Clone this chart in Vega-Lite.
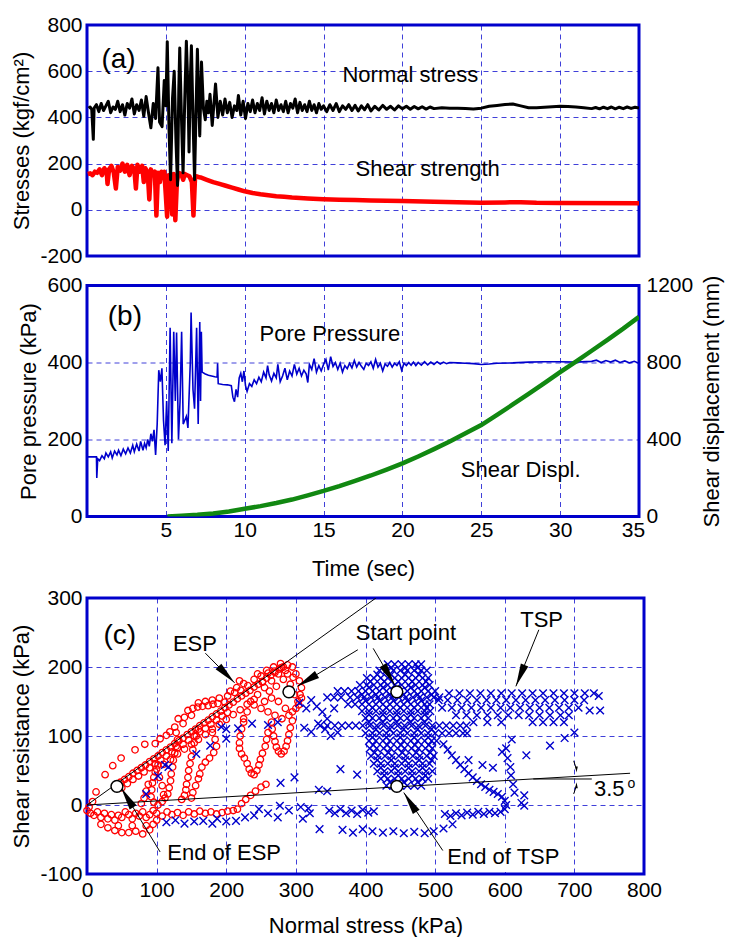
{
"$schema": "https://vega.github.io/schema/vega-lite/v6.json",
"padding": {"left": 9, "top": 12, "right": 2, "bottom": 0},
"spacing": 4.5,
"config": {
  "font": "Liberation Sans",
  "view": {"stroke": "#0000cc", "strokeWidth": 3},
  "axis": {"grid": true, "gridColor": "#0000cc", "gridDash": [5, 4], "gridWidth": 1, "gridOpacity": 0.75, "domain": false, "ticks": false, "labelFontSize": 21, "titleFontSize": 22, "labelColor": "#000000", "titleColor": "#000000", "titleFontWeight": "normal", "labelPadding": 5, "labelFlush": false, "labelOverlap": false, "labelExpr": "datum.value"},
  "text": {"font": "Liberation Sans", "color": "#000000"}
},
"datasets": {
  "ns": [{"t":0.1,"v":440},{"t":0.2,"v":445},{"t":0.3,"v":435},{"t":0.4,"v":305},{"t":0.45,"v":440},{"t":0.6,"v":455},{"t":0.75,"v":425},{"t":0.9,"v":460},{"t":1.05,"v":430},{"t":1.2,"v":450},{"t":1.35,"v":470},{"t":1.5,"v":420},{"t":1.65,"v":445},{"t":1.8,"v":435},{"t":1.95,"v":470},{"t":2.1,"v":425},{"t":2.25,"v":455},{"t":2.4,"v":410},{"t":2.55,"v":460},{"t":2.7,"v":440},{"t":2.85,"v":480},{"t":3.0,"v":415},{"t":3.15,"v":455},{"t":3.3,"v":430},{"t":3.45,"v":475},{"t":3.6,"v":405},{"t":3.75,"v":490},{"t":3.9,"v":420},{"t":4.05,"v":355},{"t":4.2,"v":460},{"t":4.35,"v":395},{"t":4.5,"v":615},{"t":4.6,"v":380},{"t":4.76,"v":360},{"t":4.9,"v":560},{"t":5.0,"v":450},{"t":5.09,"v":728},{"t":5.2,"v":350},{"t":5.3,"v":130},{"t":5.42,"v":480},{"t":5.53,"v":600},{"t":5.64,"v":300},{"t":5.74,"v":105},{"t":5.82,"v":520},{"t":5.88,"v":700},{"t":5.98,"v":420},{"t":6.09,"v":160},{"t":6.2,"v":480},{"t":6.3,"v":730},{"t":6.4,"v":520},{"t":6.47,"v":250},{"t":6.55,"v":560},{"t":6.62,"v":710},{"t":6.72,"v":400},{"t":6.82,"v":130},{"t":6.92,"v":450},{"t":7.0,"v":695},{"t":7.08,"v":480},{"t":7.15,"v":320},{"t":7.26,"v":640},{"t":7.38,"v":440},{"t":7.5,"v":390},{"t":7.6,"v":470},{"t":7.7,"v":420},{"t":7.8,"v":500},{"t":7.94,"v":365},{"t":8.05,"v":460},{"t":8.15,"v":545},{"t":8.3,"v":400},{"t":8.45,"v":470},{"t":8.6,"v":410},{"t":8.75,"v":480},{"t":8.9,"v":420},{"t":9.05,"v":465},{"t":9.2,"v":400},{"t":9.35,"v":450},{"t":9.5,"v":430},{"t":9.6,"v":495},{"t":9.75,"v":410},{"t":9.9,"v":470},{"t":10.05,"v":395},{"t":10.2,"v":460},{"t":10.35,"v":425},{"t":10.5,"v":475},{"t":10.65,"v":420},{"t":10.8,"v":460},{"t":10.95,"v":430},{"t":11.1,"v":485},{"t":11.25,"v":415},{"t":11.4,"v":470},{"t":11.55,"v":430},{"t":11.7,"v":460},{"t":11.85,"v":420},{"t":12.0,"v":475},{"t":12.15,"v":430},{"t":12.3,"v":455},{"t":12.45,"v":425},{"t":12.6,"v":470},{"t":12.75,"v":420},{"t":12.9,"v":460},{"t":13.05,"v":440},{"t":13.2,"v":480},{"t":13.35,"v":420},{"t":13.5,"v":465},{"t":13.65,"v":430},{"t":13.8,"v":455},{"t":13.95,"v":425},{"t":14.1,"v":470},{"t":14.25,"v":430},{"t":14.4,"v":455},{"t":14.55,"v":420},{"t":14.7,"v":460},{"t":14.85,"v":435},{"t":15.0,"v":450},{"t":15.2,"v":425},{"t":15.4,"v":455},{"t":15.6,"v":430},{"t":15.8,"v":460},{"t":16.0,"v":425},{"t":16.2,"v":450},{"t":16.4,"v":435},{"t":16.6,"v":455},{"t":16.8,"v":430},{"t":17.0,"v":452},{"t":17.2,"v":428},{"t":17.4,"v":450},{"t":17.6,"v":433},{"t":17.8,"v":455},{"t":18.0,"v":428},{"t":18.25,"v":448},{"t":18.5,"v":432},{"t":18.75,"v":452},{"t":19.0,"v":435},{"t":19.25,"v":448},{"t":19.5,"v":432},{"t":19.75,"v":450},{"t":20.0,"v":437},{"t":20.25,"v":448},{"t":20.5,"v":435},{"t":20.75,"v":447},{"t":21.0,"v":437},{"t":21.25,"v":446},{"t":21.5,"v":436},{"t":21.75,"v":445},{"t":22.0,"v":438},{"t":22.5,"v":442},{"t":23.0,"v":440},{"t":23.5,"v":440},{"t":24.0,"v":438},{"t":24.5,"v":436},{"t":25.0,"v":440},{"t":25.5,"v":448},{"t":26.0,"v":452},{"t":26.5,"v":456},{"t":27.0,"v":458},{"t":27.5,"v":450},{"t":28.0,"v":442},{"t":28.5,"v":442},{"t":29.0,"v":444},{"t":29.5,"v":446},{"t":30.0,"v":448},{"t":30.5,"v":447},{"t":31.0,"v":445},{"t":31.5,"v":442},{"t":32.0,"v":438},{"t":32.25,"v":443},{"t":32.5,"v":437},{"t":32.75,"v":444},{"t":33.0,"v":438},{"t":33.25,"v":445},{"t":33.5,"v":437},{"t":33.75,"v":444},{"t":34.0,"v":438},{"t":34.25,"v":445},{"t":34.5,"v":439},{"t":34.75,"v":444},{"t":35.0,"v":440}],
  "ss": [{"t":0.05,"v":155},{"t":0.2,"v":158},{"t":0.35,"v":150},{"t":0.5,"v":165},{"t":0.65,"v":160},{"t":0.8,"v":175},{"t":0.95,"v":150},{"t":1.1,"v":180},{"t":1.25,"v":165},{"t":1.3,"v":112},{"t":1.4,"v":175},{"t":1.55,"v":190},{"t":1.7,"v":160},{"t":1.83,"v":92},{"t":1.95,"v":185},{"t":2.1,"v":170},{"t":2.25,"v":200},{"t":2.4,"v":165},{"t":2.55,"v":195},{"t":2.7,"v":150},{"t":2.85,"v":190},{"t":3.0,"v":175},{"t":3.1,"v":92},{"t":3.2,"v":195},{"t":3.35,"v":165},{"t":3.5,"v":190},{"t":3.6,"v":120},{"t":3.7,"v":180},{"t":3.85,"v":160},{"t":3.95,"v":45},{"t":4.05,"v":175},{"t":4.15,"v":150},{"t":4.3,"v":165},{"t":4.4,"v":-25},{"t":4.5,"v":160},{"t":4.62,"v":120},{"t":4.72,"v":165},{"t":4.8,"v":140},{"t":4.9,"v":165},{"t":5.0,"v":60},{"t":5.08,"v":-30},{"t":5.18,"v":150},{"t":5.3,"v":140},{"t":5.4,"v":-20},{"t":5.5,"v":155},{"t":5.6,"v":-45},{"t":5.7,"v":120},{"t":5.8,"v":160},{"t":5.9,"v":158},{"t":6.0,"v":150},{"t":6.1,"v":130},{"t":6.2,"v":155},{"t":6.35,"v":150},{"t":6.5,"v":145},{"t":6.65,"v":120},{"t":6.75,"v":-25},{"t":6.85,"v":140},{"t":6.95,"v":145},{"t":7.05,"v":142},{"t":7.2,"v":140},{"t":7.6,"v":130},{"t":8.0,"v":120},{"t":8.4,"v":112},{"t":8.8,"v":104},{"t":9.2,"v":96},{"t":9.6,"v":88},{"t":10.0,"v":80},{"t":10.5,"v":73},{"t":11.0,"v":67},{"t":11.5,"v":63},{"t":12.0,"v":59},{"t":12.5,"v":56},{"t":13.0,"v":53},{"t":14.0,"v":49},{"t":15.0,"v":46},{"t":16.0,"v":44},{"t":17.0,"v":42},{"t":18.0,"v":40},{"t":20.0,"v":38},{"t":22.0,"v":35},{"t":25.0,"v":31},{"t":26.5,"v":32},{"t":27.5,"v":33},{"t":28.5,"v":30},{"t":30.0,"v":29},{"t":35.0,"v":28}],
  "pp": [{"t":0.05,"v":155},{"t":0.6,"v":155},{"t":0.62,"v":100},{"t":0.68,"v":150},{"t":0.8,"v":145},{"t":0.95,"v":158},{"t":1.1,"v":150},{"t":1.2,"v":165},{"t":1.35,"v":155},{"t":1.5,"v":168},{"t":1.6,"v":152},{"t":1.75,"v":170},{"t":1.9,"v":160},{"t":2.0,"v":172},{"t":2.15,"v":158},{"t":2.3,"v":175},{"t":2.45,"v":163},{"t":2.6,"v":178},{"t":2.75,"v":165},{"t":2.9,"v":185},{"t":3.0,"v":168},{"t":3.15,"v":188},{"t":3.3,"v":170},{"t":3.4,"v":195},{"t":3.55,"v":172},{"t":3.65,"v":190},{"t":3.75,"v":178},{"t":3.85,"v":200},{"t":3.95,"v":182},{"t":4.05,"v":215},{"t":4.15,"v":195},{"t":4.25,"v":225},{"t":4.35,"v":160},{"t":4.45,"v":240},{"t":4.55,"v":380},{"t":4.65,"v":350},{"t":4.75,"v":385},{"t":4.85,"v":250},{"t":4.95,"v":185},{"t":5.05,"v":300},{"t":5.15,"v":170},{"t":5.27,"v":490},{"t":5.38,"v":190},{"t":5.5,"v":480},{"t":5.6,"v":300},{"t":5.68,"v":478},{"t":5.8,"v":200},{"t":5.9,"v":300},{"t":6.0,"v":480},{"t":6.1,"v":240},{"t":6.2,"v":250},{"t":6.3,"v":260},{"t":6.4,"v":230},{"t":6.55,"v":400},{"t":6.6,"v":530},{"t":6.72,"v":330},{"t":6.82,"v":280},{"t":6.95,"v":490},{"t":7.05,"v":240},{"t":7.15,"v":505},{"t":7.2,"v":300},{"t":7.25,"v":480},{"t":7.3,"v":375},{"t":7.5,"v":370},{"t":7.7,"v":367},{"t":7.9,"v":365},{"t":8.1,"v":363},{"t":8.25,"v":362},{"t":8.28,"v":398},{"t":8.32,"v":345},{"t":8.6,"v":343},{"t":8.9,"v":342},{"t":9.15,"v":340},{"t":9.25,"v":310},{"t":9.35,"v":298},{"t":9.45,"v":330},{"t":9.55,"v":310},{"t":9.65,"v":360},{"t":9.75,"v":372},{"t":9.85,"v":350},{"t":9.95,"v":378},{"t":10.05,"v":340},{"t":10.15,"v":325},{"t":10.3,"v":345},{"t":10.45,"v":338},{"t":10.6,"v":355},{"t":10.75,"v":345},{"t":10.9,"v":362},{"t":11.05,"v":350},{"t":11.2,"v":375},{"t":11.35,"v":360},{"t":11.45,"v":392},{"t":11.55,"v":368},{"t":11.7,"v":352},{"t":11.85,"v":372},{"t":12.0,"v":360},{"t":12.1,"v":395},{"t":12.25,"v":350},{"t":12.4,"v":365},{"t":12.55,"v":385},{"t":12.7,"v":355},{"t":12.85,"v":378},{"t":13.0,"v":365},{"t":13.15,"v":395},{"t":13.3,"v":370},{"t":13.45,"v":385},{"t":13.6,"v":365},{"t":13.75,"v":380},{"t":13.9,"v":370},{"t":14.0,"v":348},{"t":14.1,"v":395},{"t":14.25,"v":382},{"t":14.4,"v":410},{"t":14.55,"v":375},{"t":14.7,"v":392},{"t":14.85,"v":378},{"t":15.0,"v":395},{"t":15.15,"v":408},{"t":15.3,"v":380},{"t":15.45,"v":415},{"t":15.6,"v":390},{"t":15.75,"v":400},{"t":15.9,"v":382},{"t":16.05,"v":398},{"t":16.2,"v":375},{"t":16.35,"v":392},{"t":16.5,"v":384},{"t":16.65,"v":398},{"t":16.8,"v":386},{"t":16.95,"v":405},{"t":17.1,"v":388},{"t":17.25,"v":400},{"t":17.4,"v":390},{"t":17.55,"v":382},{"t":17.7,"v":398},{"t":17.85,"v":392},{"t":18.0,"v":402},{"t":18.15,"v":385},{"t":18.3,"v":408},{"t":18.45,"v":388},{"t":18.6,"v":398},{"t":18.75,"v":378},{"t":18.9,"v":396},{"t":19.05,"v":390},{"t":19.2,"v":400},{"t":19.35,"v":388},{"t":19.5,"v":398},{"t":19.65,"v":392},{"t":19.8,"v":402},{"t":19.95,"v":380},{"t":20.1,"v":398},{"t":20.25,"v":392},{"t":20.4,"v":400},{"t":20.55,"v":393},{"t":20.7,"v":401},{"t":20.85,"v":392},{"t":21.0,"v":400},{"t":21.2,"v":393},{"t":21.4,"v":402},{"t":21.6,"v":394},{"t":21.8,"v":401},{"t":22.0,"v":395},{"t":22.2,"v":402},{"t":22.4,"v":396},{"t":22.6,"v":401},{"t":22.8,"v":397},{"t":23.0,"v":400},{"t":23.5,"v":399},{"t":24.0,"v":398},{"t":24.5,"v":397},{"t":25.0,"v":395},{"t":25.5,"v":396},{"t":26.0,"v":398},{"t":27.0,"v":399},{"t":28.0,"v":401},{"t":29.0,"v":402},{"t":30.0,"v":402},{"t":31.0,"v":401},{"t":32.0,"v":403},{"t":32.3,"v":406},{"t":32.6,"v":400},{"t":32.9,"v":405},{"t":33.2,"v":401},{"t":33.5,"v":406},{"t":33.8,"v":400},{"t":34.1,"v":404},{"t":34.4,"v":399},{"t":34.7,"v":403},{"t":35.0,"v":398}],
  "sd": [{"t":5.1,"d":0},{"t":6,"d":4},{"t":7,"d":9},{"t":8,"d":16},{"t":9,"d":26},{"t":10,"d":40},{"t":11,"d":54},{"t":12,"d":70},{"t":13,"d":88},{"t":14,"d":110},{"t":15,"d":133},{"t":16,"d":158},{"t":17,"d":185},{"t":18,"d":213},{"t":19,"d":244},{"t":20,"d":276},{"t":21,"d":312},{"t":22,"d":350},{"t":23,"d":390},{"t":24,"d":432},{"t":25,"d":475},{"t":26,"d":528},{"t":27,"d":582},{"t":28,"d":637},{"t":29,"d":693},{"t":30,"d":750},{"t":31,"d":805},{"t":32,"d":861},{"t":33,"d":918},{"t":34,"d":976},{"t":35,"d":1037}],
  "esp": [{"x":42,"y":28},{"x":48,"y":33},{"x":54,"y":37},{"x":60,"y":41},{"x":66,"y":46},{"x":72,"y":50},{"x":78,"y":54},{"x":84,"y":58},{"x":90,"y":63},{"x":96,"y":67},{"x":102,"y":71},{"x":108,"y":76},{"x":114,"y":80},{"x":120,"y":84},{"x":126,"y":89},{"x":132,"y":93},{"x":138,"y":97},{"x":144,"y":102},{"x":150,"y":106},{"x":156,"y":110},{"x":162,"y":115},{"x":168,"y":119},{"x":174,"y":123},{"x":180,"y":128},{"x":186,"y":132},{"x":192,"y":136},{"x":198,"y":141},{"x":204,"y":145},{"x":210,"y":149},{"x":216,"y":154},{"x":222,"y":158},{"x":228,"y":162},{"x":234,"y":166},{"x":240,"y":171},{"x":246,"y":175},{"x":252,"y":179},{"x":258,"y":184},{"x":264,"y":188},{"x":270,"y":192},{"x":276,"y":197},{"x":282,"y":200},{"x":288,"y":203},
    {"x":50,"y":25},{"x":58,"y":31},{"x":66,"y":37},{"x":74,"y":42},{"x":82,"y":48},{"x":90,"y":54},{"x":98,"y":60},{"x":106,"y":65},{"x":114,"y":71},{"x":122,"y":77},{"x":130,"y":83},{"x":138,"y":88},{"x":146,"y":94},{"x":154,"y":100},{"x":162,"y":106},{"x":170,"y":111},{"x":178,"y":117},{"x":186,"y":123},{"x":194,"y":129},{"x":202,"y":134},
    {"x":100,"y":52},{"x":110,"y":59},{"x":120,"y":66},{"x":130,"y":74},{"x":140,"y":81},{"x":150,"y":88},{"x":160,"y":95},{"x":170,"y":102},{"x":180,"y":110},{"x":190,"y":117},{"x":200,"y":124},{"x":210,"y":131},{"x":220,"y":138},{"x":230,"y":146},{"x":240,"y":153},
    {"x":98,"y":89},{"x":105,"y":96},{"x":114,"y":101},{"x":119,"y":106},{"x":126,"y":113},{"x":131,"y":125},{"x":140,"y":127},{"x":145,"y":137},{"x":152,"y":140},{"x":159,"y":142},{"x":166,"y":143},{"x":174,"y":144},{"x":181,"y":146},{"x":188,"y":147},{"x":198,"y":149},{"x":202,"y":158},{"x":212,"y":163},{"x":221,"y":166},{"x":231,"y":173},{"x":240,"y":182},{"x":250,"y":187},{"x":260,"y":191},{"x":269,"y":194},{"x":279,"y":199},{"x":219,"y":180},{"x":225,"y":176},{"x":215,"y":170},{"x":206,"y":165},{"x":190,"y":155},{"x":180,"y":152},{"x":170,"y":150},{"x":160,"y":148},{"x":150,"y":130},{"x":138,"y":118},{"x":128,"y":105},
    {"x":245,"y":160},{"x":255,"y":170},{"x":265,"y":180},{"x":275,"y":190},{"x":285,"y":195},{"x":295,"y":200},{"x":300,"y":190},{"x":305,"y":180},{"x":308,"y":170},{"x":306,"y":160},{"x":303,"y":150},{"x":300,"y":140},{"x":295,"y":135},{"x":285,"y":140},{"x":275,"y":150},{"x":265,"y":155},{"x":255,"y":150},{"x":250,"y":140},{"x":260,"y":135},{"x":270,"y":130},{"x":280,"y":125},{"x":290,"y":130},{"x":298,"y":160},{"x":292,"y":175},{"x":282,"y":182},{"x":272,"y":172},{"x":262,"y":165},{"x":252,"y":178},{"x":245,"y":190},{"x":258,"y":195},{"x":268,"y":200},{"x":278,"y":205},{"x":288,"y":190},{"x":296,"y":185},{"x":304,"y":145},{"x":308,"y":155},{"x":240,"y":145},{"x":235,"y":150},{"x":230,"y":135},{"x":225,"y":125},
    {"x":225,"y":120},{"x":222,"y":110},{"x":220,"y":100},{"x":219,"y":90},{"x":219,"y":82},{"x":222,"y":74},{"x":226,"y":68},{"x":230,"y":60},{"x":233,"y":52},{"x":236,"y":46},{"x":240,"y":44},{"x":244,"y":50},{"x":247,"y":58},{"x":249,"y":66},{"x":252,"y":75},{"x":256,"y":85},{"x":258,"y":95},{"x":260,"y":105},
    {"x":265,"y":120},{"x":266,"y":110},{"x":268,"y":100},{"x":270,"y":92},{"x":272,"y":84},{"x":275,"y":78},{"x":279,"y":74},{"x":283,"y":78},{"x":286,"y":85},{"x":288,"y":93},{"x":290,"y":102},{"x":292,"y":112},{"x":295,"y":122},
    {"x":160,"y":110},{"x":157,"y":100},{"x":154,"y":90},{"x":152,"y":80},{"x":150,"y":70},{"x":148,"y":60},{"x":146,"y":50},{"x":145,"y":40},{"x":143,"y":30},{"x":142,"y":22},{"x":140,"y":14},{"x":136,"y":8},
    {"x":180,"y":105},{"x":184,"y":95},{"x":186,"y":85},{"x":182,"y":76},{"x":176,"y":68},{"x":170,"y":62},{"x":165,"y":55},{"x":162,"y":45},{"x":160,"y":38},{"x":156,"y":28},{"x":152,"y":18},{"x":150,"y":10},
    {"x":130,"y":95},{"x":128,"y":85},{"x":126,"y":75},{"x":124,"y":65},{"x":123,"y":55},{"x":121,"y":45},{"x":120,"y":35},{"x":118,"y":25},{"x":116,"y":16},{"x":112,"y":10},
    {"x":102,"y":58},{"x":98,"y":48},{"x":96,"y":40},{"x":94,"y":32},{"x":93,"y":22},{"x":92,"y":12},{"x":96,"y":4},{"x":102,"y":0},{"x":108,"y":5},{"x":110,"y":15},{"x":108,"y":28},{"x":104,"y":40},{"x":88,"y":30},{"x":85,"y":20},{"x":82,"y":10},{"x":78,"y":2},
    {"x":0,"y":-8},{"x":5,"y":-12},{"x":10,"y":-15},{"x":15,"y":-10},{"x":20,"y":-18},{"x":25,"y":-12},{"x":30,"y":-20},{"x":35,"y":-14},{"x":40,"y":-22},{"x":45,"y":-15},{"x":50,"y":-18},{"x":55,"y":-10},{"x":60,"y":-14},{"x":65,"y":-20},{"x":70,"y":-12},{"x":75,"y":-16},{"x":80,"y":-10},{"x":85,"y":-18},{"x":90,"y":-14},{"x":95,"y":-8},{"x":100,"y":-12},{"x":108,"y":-16},{"x":115,"y":-10},{"x":122,"y":-14},{"x":130,"y":-11},{"x":138,"y":-15},{"x":146,"y":-10},{"x":154,"y":-13},{"x":162,"y":-9},{"x":170,"y":-12},{"x":178,"y":-10},{"x":186,"y":-13},{"x":194,"y":-11},{"x":202,"y":-9},{"x":210,"y":-8},{"x":216,"y":-6},
    {"x":20,"y":-28},{"x":30,"y":-33},{"x":40,"y":-37},{"x":50,"y":-40},{"x":60,"y":-40},{"x":70,"y":-38},{"x":80,"y":-42},{"x":90,"y":-36},{"x":95,"y":-28},{"x":100,"y":-22},{"x":85,"y":-30},{"x":65,"y":-30},{"x":45,"y":-30},
    {"x":222,"y":2},{"x":228,"y":8},{"x":235,"y":14},{"x":242,"y":20},{"x":250,"y":26},{"x":257,"y":30},
    {"x":13,"y":19},{"x":26,"y":44},{"x":37,"y":57},{"x":49,"y":68},{"x":69,"y":80},{"x":83,"y":88},{"x":3,"y":-3},{"x":8,"y":5}],
  "tsp": [{"x":432,"y":204},{"x":442,"y":204},{"x":452,"y":204},{"x":462,"y":204},{"x":472,"y":204},{"x":480,"y":204},
    {"x":420,"y":195},{"x":430,"y":195},{"x":440,"y":195},{"x":450,"y":195},{"x":460,"y":195},{"x":470,"y":195},{"x":480,"y":195},{"x":488,"y":195},
    {"x":402,"y":184},{"x":412,"y":184},{"x":422,"y":184},{"x":432,"y":184},{"x":442,"y":184},{"x":452,"y":184},{"x":462,"y":184},{"x":472,"y":184},{"x":482,"y":184},{"x":490,"y":184},
    {"x":392,"y":174},{"x":402,"y":174},{"x":412,"y":174},{"x":422,"y":174},{"x":432,"y":174},{"x":442,"y":174},{"x":452,"y":174},{"x":462,"y":174},{"x":472,"y":174},{"x":482,"y":174},{"x":492,"y":174},
    {"x":360,"y":165},{"x":370,"y":165},{"x":380,"y":165},{"x":390,"y":165},{"x":400,"y":165},{"x":410,"y":165},{"x":420,"y":165},{"x":430,"y":165},{"x":440,"y":165},{"x":450,"y":165},{"x":460,"y":165},{"x":470,"y":165},{"x":480,"y":165},{"x":490,"y":165},{"x":500,"y":165},
    {"x":345,"y":156},{"x":355,"y":156},{"x":365,"y":156},{"x":378,"y":156},{"x":388,"y":156},{"x":398,"y":156},{"x":408,"y":156},{"x":418,"y":156},{"x":428,"y":156},{"x":438,"y":156},{"x":448,"y":156},{"x":458,"y":156},{"x":468,"y":156},{"x":478,"y":156},{"x":488,"y":156},{"x":498,"y":156},{"x":506,"y":156},
    {"x":375,"y":146},{"x":385,"y":146},{"x":395,"y":146},{"x":405,"y":146},{"x":415,"y":146},{"x":425,"y":146},{"x":435,"y":146},{"x":445,"y":146},{"x":455,"y":146},{"x":465,"y":146},{"x":475,"y":146},{"x":485,"y":146},{"x":492,"y":146},
    {"x":395,"y":136},{"x":405,"y":136},{"x":415,"y":136},{"x":425,"y":136},{"x":435,"y":136},{"x":445,"y":136},{"x":455,"y":136},{"x":465,"y":136},{"x":475,"y":136},{"x":485,"y":136},{"x":493,"y":136},
    {"x":400,"y":126},{"x":410,"y":126},{"x":420,"y":126},{"x":430,"y":126},{"x":440,"y":126},{"x":450,"y":126},{"x":460,"y":126},{"x":470,"y":126},{"x":480,"y":126},{"x":490,"y":126},
    {"x":335,"y":115},{"x":345,"y":115},{"x":356,"y":115},{"x":366,"y":115},{"x":376,"y":115},{"x":386,"y":115},{"x":396,"y":115},{"x":406,"y":115},{"x":416,"y":115},{"x":426,"y":115},{"x":436,"y":115},{"x":446,"y":115},{"x":456,"y":115},{"x":466,"y":115},{"x":476,"y":115},{"x":486,"y":115},{"x":496,"y":115},{"x":506,"y":115},{"x":516,"y":115},{"x":526,"y":115},{"x":536,"y":115},{"x":545,"y":115},
    {"x":400,"y":104},{"x":410,"y":104},{"x":420,"y":104},{"x":430,"y":104},{"x":440,"y":104},{"x":450,"y":104},{"x":460,"y":104},{"x":470,"y":104},{"x":480,"y":104},{"x":490,"y":104},{"x":500,"y":104},{"x":510,"y":104},{"x":520,"y":104},{"x":530,"y":104},{"x":540,"y":104},{"x":546,"y":104},
    {"x":405,"y":93},{"x":415,"y":93},{"x":425,"y":93},{"x":435,"y":93},{"x":445,"y":93},{"x":455,"y":93},{"x":465,"y":93},{"x":475,"y":93},{"x":485,"y":93},{"x":495,"y":93},{"x":502,"y":93},
    {"x":406,"y":82},{"x":416,"y":82},{"x":426,"y":82},{"x":436,"y":82},{"x":446,"y":82},{"x":456,"y":82},{"x":466,"y":82},{"x":476,"y":82},{"x":486,"y":82},{"x":496,"y":82},
    {"x":408,"y":71},{"x":418,"y":71},{"x":428,"y":71},{"x":438,"y":71},{"x":448,"y":71},{"x":458,"y":71},{"x":468,"y":71},{"x":478,"y":71},{"x":488,"y":71},{"x":498,"y":71},
    {"x":412,"y":60},{"x":422,"y":60},{"x":432,"y":60},{"x":442,"y":60},{"x":452,"y":60},{"x":462,"y":60},{"x":472,"y":60},{"x":482,"y":60},{"x":492,"y":60},
    {"x":417,"y":49},{"x":427,"y":49},{"x":437,"y":49},{"x":447,"y":49},{"x":457,"y":49},{"x":467,"y":49},{"x":477,"y":49},{"x":487,"y":49},{"x":496,"y":49},
    {"x":422,"y":38},{"x":432,"y":38},{"x":442,"y":38},{"x":452,"y":38},{"x":462,"y":38},{"x":472,"y":38},{"x":482,"y":38},{"x":490,"y":38},
    {"x":430,"y":28},{"x":440,"y":28},{"x":450,"y":28},{"x":460,"y":28},{"x":470,"y":28},{"x":480,"y":28},
    {"x":437,"y":199},{"x":457,"y":199},{"x":475,"y":199},{"x":417,"y":189},{"x":437,"y":189},{"x":457,"y":189},{"x":477,"y":189},{"x":407,"y":179},{"x":427,"y":179},{"x":447,"y":179},{"x":467,"y":179},{"x":487,"y":179},{"x":405,"y":170},{"x":425,"y":170},{"x":445,"y":170},{"x":465,"y":170},{"x":485,"y":170},{"x":395,"y":160},{"x":415,"y":160},{"x":435,"y":160},{"x":455,"y":160},{"x":475,"y":160},{"x":495,"y":160},{"x":400,"y":151},{"x":420,"y":151},{"x":440,"y":151},{"x":460,"y":151},{"x":480,"y":151},{"x":410,"y":141},{"x":430,"y":141},{"x":450,"y":141},{"x":470,"y":141},{"x":488,"y":141},{"x":405,"y":131},{"x":425,"y":131},{"x":445,"y":131},{"x":465,"y":131},{"x":485,"y":131},{"x":405,"y":120},{"x":425,"y":120},{"x":445,"y":120},{"x":465,"y":120},{"x":485,"y":120},{"x":415,"y":110},{"x":435,"y":110},{"x":455,"y":110},{"x":475,"y":110},{"x":495,"y":110},{"x":410,"y":98},{"x":430,"y":98},{"x":450,"y":98},{"x":470,"y":98},{"x":490,"y":98},{"x":411,"y":87},{"x":431,"y":87},{"x":451,"y":87},{"x":471,"y":87},{"x":491,"y":87},{"x":413,"y":76},{"x":433,"y":76},{"x":453,"y":76},{"x":473,"y":76},{"x":493,"y":76},{"x":417,"y":65},{"x":437,"y":65},{"x":457,"y":65},{"x":477,"y":65},{"x":495,"y":65},{"x":422,"y":54},{"x":442,"y":54},{"x":462,"y":54},{"x":482,"y":54},{"x":427,"y":43},{"x":447,"y":43},{"x":467,"y":43},{"x":486,"y":43},{"x":435,"y":33},{"x":455,"y":33},{"x":475,"y":33},
    {"x":305,"y":148},{"x":315,"y":140},{"x":322,"y":152},{"x":330,"y":143},{"x":338,"y":135},{"x":312,"y":112},{"x":322,"y":106},{"x":332,"y":118},{"x":342,"y":110},{"x":350,"y":100},{"x":360,"y":105},{"x":345,"y":125},{"x":355,"y":140},
    {"x":520,"y":162},{"x":535,"y":162},{"x":550,"y":162},{"x":565,"y":162},{"x":580,"y":162},{"x":595,"y":162},{"x":610,"y":162},{"x":625,"y":162},{"x":640,"y":162},{"x":655,"y":162},{"x":670,"y":162},{"x":685,"y":162},{"x":700,"y":162},{"x":715,"y":162},{"x":728,"y":162},
    {"x":505,"y":152},{"x":518,"y":152},{"x":532,"y":152},{"x":546,"y":152},{"x":560,"y":152},{"x":574,"y":152},{"x":588,"y":152},{"x":602,"y":152},{"x":616,"y":152},{"x":630,"y":152},{"x":644,"y":152},{"x":658,"y":152},{"x":672,"y":152},{"x":686,"y":152},{"x":700,"y":152},{"x":714,"y":152},{"x":735,"y":158},
    {"x":510,"y":141},{"x":524,"y":141},{"x":538,"y":141},{"x":552,"y":141},{"x":566,"y":141},{"x":580,"y":141},{"x":594,"y":141},{"x":608,"y":141},{"x":622,"y":141},{"x":636,"y":141},{"x":650,"y":141},{"x":664,"y":141},{"x":678,"y":141},{"x":692,"y":141},{"x":706,"y":141},{"x":722,"y":137},{"x":737,"y":137},
    {"x":530,"y":130},{"x":545,"y":130},{"x":560,"y":130},{"x":575,"y":130},{"x":590,"y":130},{"x":605,"y":130},{"x":620,"y":130},{"x":635,"y":130},{"x":650,"y":130},{"x":665,"y":130},{"x":680,"y":130},{"x":692,"y":130},
    {"x":555,"y":120},{"x":575,"y":120},{"x":595,"y":120},{"x":640,"y":120},{"x":655,"y":120},{"x":670,"y":120},{"x":685,"y":120},
    {"x":700,"y":105},{"x":686,"y":97},{"x":665,"y":86},{"x":631,"y":72},{"x":610,"y":95},{"x":602,"y":82},{"x":604,"y":68},{"x":608,"y":55},{"x":596,"y":77},{"x":583,"y":54},{"x":609,"y":43},{"x":612,"y":30},{"x":614,"y":18},{"x":624,"y":3},{"x":628,"y":14},{"x":628,"y":-1},{"x":568,"y":58},{"x":548,"y":65},
    {"x":512,"y":88},{"x":518,"y":80},{"x":524,"y":72},{"x":530,"y":65},{"x":536,"y":58},{"x":542,"y":52},{"x":548,"y":46},{"x":554,"y":40},{"x":560,"y":35},{"x":566,"y":30},{"x":572,"y":26},{"x":578,"y":22},{"x":584,"y":19},{"x":590,"y":16},{"x":596,"y":12},{"x":600,"y":6},{"x":602,"y":0},{"x":600,"y":-6},{"x":594,"y":-10},{"x":586,"y":-12},{"x":578,"y":-10},{"x":570,"y":-13},{"x":562,"y":-10},{"x":554,"y":-14},{"x":546,"y":-11},{"x":538,"y":-15},{"x":530,"y":-12},{"x":522,"y":-16},{"x":514,"y":-13},
    {"x":112,"y":58},{"x":117,"y":55},{"x":157,"y":74},{"x":177,"y":86},{"x":200,"y":96},{"x":200,"y":110},{"x":193,"y":113},{"x":217,"y":111},{"x":237,"y":118},{"x":260,"y":116},{"x":274,"y":120},{"x":102,"y":42},{"x":85,"y":16},
    {"x":114,"y":-25},{"x":127,"y":-22},{"x":140,"y":-27},{"x":154,"y":-24},{"x":167,"y":-23},{"x":180,"y":-27},{"x":187,"y":-20},{"x":200,"y":-24},{"x":214,"y":-23},{"x":227,"y":-18},{"x":240,"y":-15},{"x":247,"y":-6},{"x":260,"y":-12},{"x":274,"y":-18},{"x":277,"y":-1},{"x":290,"y":-8},{"x":307,"y":-3},{"x":310,"y":-20},{"x":320,"y":-12},{"x":334,"y":-35},
    {"x":348,"y":-8},{"x":356,"y":-12},{"x":364,"y":-6},{"x":372,"y":-12},{"x":380,"y":-8},{"x":388,"y":-13},{"x":396,"y":-7},{"x":404,"y":-11},{"x":412,"y":-9},
    {"x":367,"y":-36},{"x":382,"y":-40},{"x":396,"y":-35},{"x":410,"y":-38},{"x":425,"y":-40},{"x":440,"y":-38},{"x":455,"y":-41},{"x":470,"y":-39},{"x":485,"y":-41},{"x":498,"y":-38},{"x":512,"y":-34},{"x":525,"y":-28},
    {"x":278,"y":32},{"x":298,"y":40},{"x":333,"y":22},{"x":364,"y":52},{"x":388,"y":44},{"x":318,"y":-5},{"x":345,"y":20}]
},
"vconcat": [
  {
    "width": 552, "height": 231,
    "encoding": {
      "x": {"field": "t", "type": "quantitative", "scale": {"domain": [0, 35], "nice": false}, "axis": {"values": [5, 10, 15, 20, 25, 30], "labels": false, "title": null}},
      "y": {"field": "v", "type": "quantitative", "scale": {"domain": [-200, 800], "nice": false}, "axis": {"values": [-200, 0, 200, 400, 600, 800], "title": "Stresses (kgf/cm²)", "titlePadding": 6}}
    },
    "layer": [
      {"data": {"name": "ss"}, "mark": {"type": "line", "color": "#ff0000", "strokeWidth": 4.5, "strokeJoin": "round", "clip": true}},
      {"data": {"name": "ns"}, "mark": {"type": "line", "color": "#000000", "strokeWidth": 3, "strokeJoin": "round", "clip": true}},
      {"data": {"values": [{"t": 20.5, "v": 583, "label": "Normal stress"}, {"t": 21.6, "v": 176, "label": "Shear strength"}]}, "mark": {"type": "text", "fontSize": 22, "align": "center", "baseline": "middle"}, "encoding": {"text": {"field": "label"}}},
      {"data": {"values": [{"t": 2.0, "v": 649, "label": "(a)"}]}, "mark": {"type": "text", "fontSize": 28, "align": "center", "baseline": "middle"}, "encoding": {"text": {"field": "label"}}}
    ]
  },
  {
    "width": 552, "height": 231,
    "layer": [
      {
        "encoding": {
          "x": {"field": "t", "type": "quantitative", "scale": {"domain": [0, 35], "nice": false}, "axis": {"values": [5, 10, 15, 20, 25, 30, 35], "title": "Time (sec)", "labelPadding": 3, "titlePadding": 17.5, "labelOffset": {"condition": {"test": "datum.value == 35", "value": -6}, "value": 0}}},
          "y": {"field": "v", "type": "quantitative", "scale": {"domain": [0, 600], "nice": false}, "axis": {"values": [0, 200, 400, 600], "title": "Pore pressure (kPa)", "titlePadding": 6}}
        },
        "layer": [
          {"data": {"name": "pp"}, "mark": {"type": "line", "color": "#0000cc", "strokeWidth": 1.6, "clip": true}},
          {"data": {"values": [{"t": 15.4, "v": 475, "label": "Pore Pressure"}, {"t": 27.5, "v": 121, "label": "Shear Displ."}]}, "mark": {"type": "text", "fontSize": 22, "align": "center", "baseline": "middle"}, "encoding": {"text": {"field": "label"}}},
          {"data": {"values": [{"t": 2.4, "v": 517, "label": "(b)"}]}, "mark": {"type": "text", "fontSize": 28, "align": "center", "baseline": "middle"}, "encoding": {"text": {"field": "label"}}}
        ]
      },
      {
        "data": {"name": "sd"},
        "mark": {"type": "line", "color": "#118811", "strokeWidth": 4.5, "clip": true},
        "encoding": {
          "x": {"field": "t", "type": "quantitative", "scale": {"domain": [0, 35], "nice": false}, "axis": {"values": [5, 10, 15, 20, 25, 30, 35], "title": "Time (sec)", "labelPadding": 3, "titlePadding": 17.5, "labelOffset": {"condition": {"test": "datum.value == 35", "value": -6}, "value": 0}}},
          "y": {"field": "d", "type": "quantitative", "scale": {"domain": [0, 1200], "nice": false}, "axis": {"orient": "right", "values": [0, 400, 800, 1200], "grid": false, "title": "Shear displacement (mm)", "titleAngle": 270, "titleBaseline": "top", "labelPadding": 7, "titlePadding": 9}}
        }
      }
    ],
    "resolve": {"scale": {"y": "independent"}}
  },
  {
    "width": 557, "height": 276,
    "encoding": {
      "x": {"field": "x", "type": "quantitative", "scale": {"domain": [0, 800], "nice": false}, "axis": {"values": [0, 100, 200, 300, 400, 500, 600, 700, 800], "title": "Normal stress (kPa)", "labelPadding": 5, "titlePadding": 15}},
      "y": {"field": "y", "type": "quantitative", "scale": {"domain": [-100, 300], "nice": false}, "axis": {"values": [-100, 0, 100, 200, 300], "title": "Shear resistance (kPa)", "titlePadding": 6}}
    },
    "layer": [
      {"data": {"values": [{"x": 508, "y": -55, "x2": 688, "y2": -97}]}, "mark": {"type": "rect", "color": "#ffffff", "opacity": 1}, "encoding": {"x2": {"field": "x2"}, "y2": {"field": "y2"}}},
      {"data": {"name": "esp"}, "mark": {"type": "point", "shape": "circle", "filled": false, "color": "#ff0000", "size": 42, "strokeWidth": 1.3, "opacity": 1}},
      {"data": {"name": "tsp"}, "mark": {"type": "point", "shape": "M-1,-1L1,1M-1,1L1,-1", "filled": false, "color": "#0000cc", "size": 58, "strokeWidth": 1.4, "opacity": 1}},
      {"data": {"values": [{"x": 0, "y": 0, "x2": 415, "y2": 300}, {"x": 0, "y": 0, "x2": 780, "y2": 46}, {"x": 641, "y": 37.7, "x2": 725, "y2": 37.7}]}, "mark": {"type": "rule", "color": "#000000", "strokeWidth": 1, "clip": true}, "encoding": {"x2": {"field": "x2"}, "y2": {"field": "y2"}}},
      {"data": {"values": [{"x": 170, "y": 220, "x2": 212, "y2": 177}, {"x": 389, "y": 225, "x2": 302, "y2": 172}, {"x": 411, "y": 227, "x2": 442, "y2": 174}, {"x": 649, "y": 254, "x2": 616, "y2": 172}, {"x": 105, "y": -68, "x2": 49, "y2": 25}, {"x": 511, "y": -66, "x2": 455, "y2": 18}, {"x": 699, "y": 64, "x2": 703, "y2": 52}, {"x": 699, "y": 16, "x2": 703, "y2": 28}]}, "mark": {"type": "rule", "color": "#000000", "strokeWidth": 1}, "encoding": {"x2": {"field": "x2"}, "y2": {"field": "y2"}}},
      {"data": {"values": [{"x": 212, "y": 177}]}, "mark": {"type": "point", "shape": "M0,0L0.35,2L-0.35,2Z", "filled": true, "color": "#000000", "size": 530, "angle": 135.5, "opacity": 1}},
      {"data": {"values": [{"x": 302, "y": 172}]}, "mark": {"type": "point", "shape": "M0,0L0.35,2L-0.35,2Z", "filled": true, "color": "#000000", "size": 530, "angle": 238.9, "opacity": 1}},
      {"data": {"values": [{"x": 442, "y": 174}]}, "mark": {"type": "point", "shape": "M0,0L0.35,2L-0.35,2Z", "filled": true, "color": "#000000", "size": 530, "angle": 149.5, "opacity": 1}},
      {"data": {"values": [{"x": 616, "y": 172}]}, "mark": {"type": "point", "shape": "M0,0L0.35,2L-0.35,2Z", "filled": true, "color": "#000000", "size": 530, "angle": 202.2, "opacity": 1}},
      {"data": {"values": [{"x": 49, "y": 25}]}, "mark": {"type": "point", "shape": "M0,0L0.35,2L-0.35,2Z", "filled": true, "color": "#000000", "size": 530, "angle": 328.6, "opacity": 1}},
      {"data": {"values": [{"x": 455, "y": 18}]}, "mark": {"type": "point", "shape": "M0,0L0.35,2L-0.35,2Z", "filled": true, "color": "#000000", "size": 530, "angle": 327.2, "opacity": 1}},
      {"data": {"values": [{"x": 703, "y": 47}]}, "mark": {"type": "point", "shape": "M0,0L0.45,2L-0.45,2Z", "filled": true, "color": "#000000", "size": 36, "angle": 180, "opacity": 1}},
      {"data": {"values": [{"x": 703, "y": 33}]}, "mark": {"type": "point", "shape": "M0,0L0.45,2L-0.45,2Z", "filled": true, "color": "#000000", "size": 36, "angle": 0, "opacity": 1}},
      {"data": {"values": [{"x": 43, "y": 27}, {"x": 290, "y": 164}, {"x": 445, "y": 164}, {"x": 445, "y": 27}]}, "mark": {"type": "point", "shape": "circle", "filled": true, "fill": "#ffffff", "stroke": "#000000", "strokeWidth": 1.5, "size": 140, "opacity": 1}},
      {"data": {"values": [{"x": 155, "y": 234, "label": "ESP"}, {"x": 458, "y": 250, "label": "Start point"}, {"x": 653, "y": 268, "label": "TSP"}, {"x": 197, "y": -70, "label": "End of ESP"}, {"x": 598, "y": -76, "label": "End of TSP"}, {"x": 750, "y": 23, "label": "3.5"}]}, "mark": {"type": "text", "fontSize": 22, "align": "center", "baseline": "middle"}, "encoding": {"text": {"field": "label"}}},
      {"data": {"values": [{"x": 782, "y": 31, "label": "o"}]}, "mark": {"type": "text", "fontSize": 14, "align": "center", "baseline": "middle"}, "encoding": {"text": {"field": "label"}}},
      {"data": {"values": [{"x": 47, "y": 245, "label": "(c)"}]}, "mark": {"type": "text", "fontSize": 28, "align": "center", "baseline": "middle"}, "encoding": {"text": {"field": "label"}}}
    ]
  }
]
}
